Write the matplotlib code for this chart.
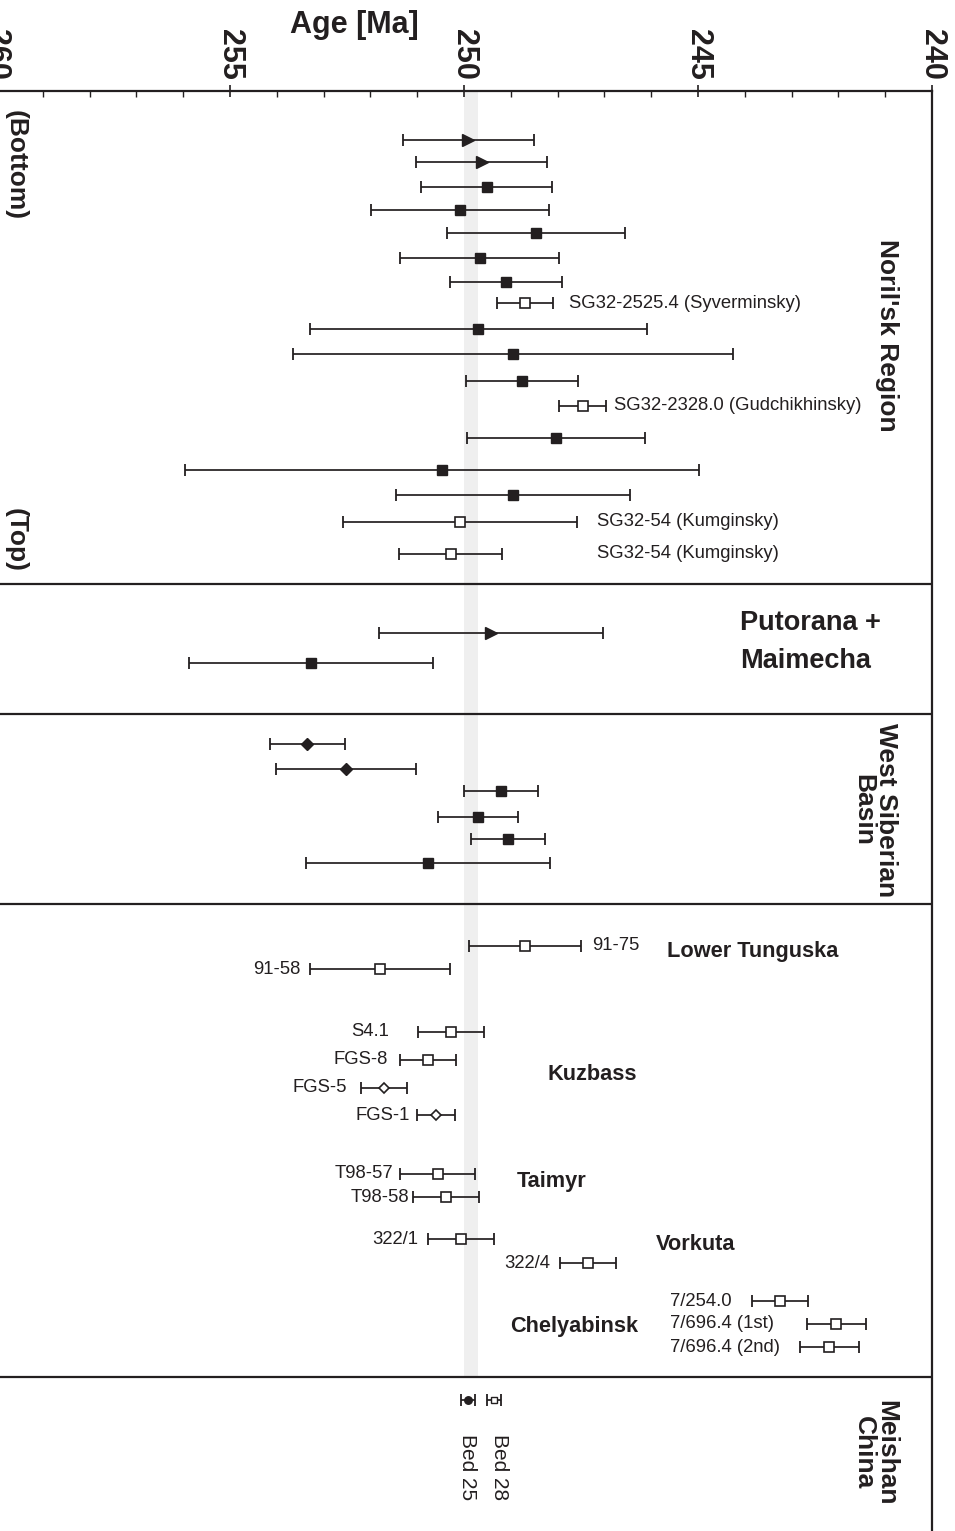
import matplotlib
matplotlib.use('Agg')
import matplotlib.pyplot as plt
from matplotlib.ticker import MultipleLocator

plt.rcParams['font.family'] = ['Liberation Sans', 'DejaVu Sans']

INK = '#231f20'
BAND = '#efefef'

# Noril'sk Region, listed from the bottom of the section to the top
noril_age = [249.91, 249.62, 249.51, 250.09, 248.46, 249.66, 249.10, 248.70, 249.70,
             248.95, 248.76, 247.46, 248.03, 250.47, 248.95, 250.09, 250.28]
noril_err = [1.40, 1.40, 1.40, 1.90, 1.90, 1.70, 1.20, 0.60, 3.60,
             4.70, 1.20, 0.50, 1.90, 5.50, 2.50, 2.50, 1.10]
noril_kind = ['tri', 'tri', 'sq', 'sq', 'sq', 'sq', 'sq', 'open', 'sq',
              'sq', 'sq', 'open', 'sq', 'sq', 'sq', 'open', 'open']
noril_names = {7: 'SG32-2525.4 (Syverminsky)', 11: 'SG32-2328.0 (Gudchikhinsky)',
               15: 'SG32-54 (Kumginsky)', 16: 'SG32-54 (Kumginsky)'}

# Putorana + Maimecha
puto_age = [249.42, 253.27]
puto_err = [2.40, 2.60]
puto_kind = ['tri', 'sq']

# West Siberian Basin
wsb_age = [253.35, 252.52, 249.21, 249.70, 249.06, 250.77]
wsb_err = [0.80, 1.50, 0.80, 0.85, 0.80, 2.60]
wsb_kind = ['dia', 'dia', 'sq', 'sq', 'sq', 'sq']

# Tuffs and sills from the other basins
other_names = ['91-75', '91-58', 'S4.1', 'FGS-8', 'FGS-5', 'FGS-1', 'T98-57', 'T98-58',
               '322/1', '322/4', '7/254.0', '7/696.4 (1st)', '7/696.4 (2nd)']
other_age = [248.70, 251.79, 250.28, 250.77, 251.71, 250.60, 250.56, 250.38,
             250.06, 247.35, 243.25, 242.05, 242.20]
other_err = [1.20, 1.50, 0.70, 0.60, 0.50, 0.40, 0.80, 0.70,
             0.70, 0.60, 0.60, 0.63, 0.63]
other_kind = ['open', 'open', 'open', 'open', 'odia', 'odia', 'open', 'open',
              'open', 'open', 'open', 'open', 'open']

# Meishan, China
meishan_names = ['Bed 25', 'Bed 28']
meishan_age = [249.91, 249.36]
meishan_err = [0.15, 0.15]
meishan_kind = ['sdot', 'sopen']

# Permian-Triassic boundary band
band_ages = (249.70, 250.00)

# vertical layout (rows run downward)
noril_y = [140, 162, 187, 210, 233, 258, 282, 303, 329, 354, 381, 406, 438, 470, 495, 522, 554]
puto_y = [633, 663]
wsb_y = [744, 769, 791, 817, 839, 863]
other_y = [946, 969, 1032, 1060, 1088, 1115, 1174, 1197, 1239, 1263, 1301, 1324, 1347]
meishan_y = 1400
dividers = [584, 714, 904, 1377]
y_top, y_bottom = 91, 1551

# where the sample names sit: (age of anchor, side)
noril_label_x = {7: 247.76, 11: 246.79, 15: 247.16, 16: 247.16}
other_label_x = [(247.26, 'left'), (253.50, 'right'), (251.60, 'right'), (251.62, 'right'),
                 (252.50, 'right'), (251.15, 'right'), (251.52, 'right'), (251.18, 'right'),
                 (250.98, 'right'), (248.16, 'right'), (245.60, 'left'), (245.60, 'left'),
                 (245.60, 'left')]
meishan_label_x = [249.92, 249.25]

MARKERS = {
    'tri': dict(marker='>', ms=8.8, mfc=INK),
    'sq': dict(marker='s', ms=7.4, mfc=INK),
    'open': dict(marker='s', ms=6.8, mfc='white', mew=1.2),
    'dia': dict(marker='D', ms=6.0, mfc=INK),
    'odia': dict(marker='D', ms=4.8, mfc='white', mew=1.2),
    'sdot': dict(marker='o', ms=5.4, mfc=INK),
    'sopen': dict(marker='s', ms=4.8, mfc='white', mew=1.0),
}

fig = plt.figure(figsize=(9.55, 15.31), dpi=100)
W, H = 955, 1531
ax = fig.add_axes([-4 / W, -(y_bottom - H) / H, 936 / W, (y_bottom - y_top) / H])


def draw(ages, errs, ys, kinds):
    for a, e, y, k in zip(ages, errs, ys, kinds):
        ax.errorbar(a, y, xerr=e, fmt='none', ecolor=INK, elinewidth=1.25,
                    capsize=4.6, capthick=1.3, zorder=3)
        ax.plot(a, y, linestyle='none', mec=INK, zorder=4, **MARKERS[k])


draw(noril_age, noril_err, noril_y, noril_kind)
draw(puto_age, puto_err, puto_y, puto_kind)
draw(wsb_age, wsb_err, wsb_y, wsb_kind)
draw(other_age, other_err, other_y, other_kind)
draw(meishan_age, meishan_err, [meishan_y] * 2, meishan_kind)

ax.fill_betweenx([y_top, dividers[-1]], band_ages[0], band_ages[1], color=BAND, lw=0, zorder=0)
for yd in dividers:
    ax.axhline(yd, color=INK, lw=1.6, zorder=2)

small = dict(fontsize=13.3, color=INK, va='center')
for i, name in noril_names.items():
    ax.text(noril_label_x[i], noril_y[i], name, ha='left', **small)
for name, y, (xa, side) in zip(other_names, other_y, other_label_x):
    ax.text(xa, y, name, ha=side, **small)

# Meishan bed names run down the page
for name, xa in zip(meishan_names, meishan_label_x):
    ax.text(xa, 1434, name, rotation=-90, ha='center', va='top', fontsize=15, color=INK)

region = dict(fontsize=19, fontweight='bold', color=INK)
ax.text(240.96, 335, "Noril'sk Region", rotation=-90, ha='center', va='center', **region)
ax.text(241.22, 810, 'West Siberian\nBasin', rotation=-90, ha='center', va='center',
        multialignment='center', linespacing=0.95, **region)
ax.text(241.22, 1453, 'Meishan\nChina', rotation=-90, ha='center', va='center',
        multialignment='center', linespacing=0.95, **region)
ax.text(244.10, 630, 'Putorana +', ha='left', va='baseline', fontsize=19.5,
        fontweight='bold', color=INK)
ax.text(244.10, 668, 'Maimecha', ha='left', va='baseline', fontsize=19.5,
        fontweight='bold', color=INK)
ax.text(259.59, 165, '(Bottom)', rotation=-90, ha='center', va='center', **region)
ax.text(259.59, 540, '(Top)', rotation=-90, ha='center', va='center', **region)

basin = dict(fontsize=15.7, fontweight='bold', color=INK, ha='left', va='baseline')
ax.text(245.66, 957, 'Lower Tunguska', **basin)
ax.text(248.21, 1080, 'Kuzbass', **basin)
ax.text(248.87, 1187, 'Taimyr', **basin)
ax.text(245.90, 1250, 'Vorkuta', **basin)
ax.text(249.02, 1332, 'Chelyabinsk', **basin)

# age axis along the top
ax.set_xlim(260, 240)
ax.set_ylim(y_bottom, y_top)
ax.xaxis.tick_top()
ax.xaxis.set_major_locator(MultipleLocator(5))
ax.xaxis.set_minor_locator(MultipleLocator(1))
ax.tick_params(axis='x', which='major', direction='inout', length=8, width=1.2,
               color=INK, pad=4, labelsize=22, labelcolor=INK)
ax.tick_params(axis='x', which='minor', direction='in', length=4.3, width=1.0, color=INK)
for lab in ax.get_xticklabels():
    lab.set_rotation(-90)
    lab.set_fontweight('bold')
    lab.set_va('bottom')
    lab.set_ha('center')
ax.set_yticks([])
for side in ['left', 'bottom']:
    ax.spines[side].set_visible(False)
for side in ['top', 'right']:
    ax.spines[side].set_linewidth(1.6)
    ax.spines[side].set_color(INK)

fig.text(354 / W, 1 - 25 / H, 'Age [Ma]', ha='center', va='center',
         fontsize=22, fontweight='bold', color=INK)

fig.savefig('out.png', dpi=100)
